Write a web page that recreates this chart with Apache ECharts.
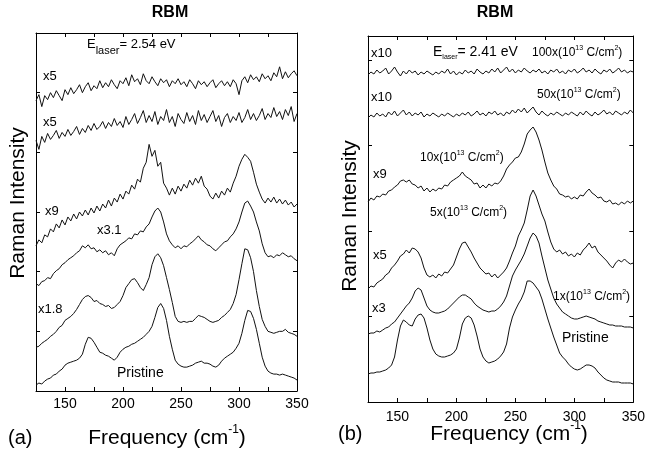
<!DOCTYPE html>
<html>
<head>
<meta charset="utf-8">
<script src="https://cdn.jsdelivr.net/npm/echarts@6/dist/echarts.min.js"></script>
<style>
  html, body { margin: 0; padding: 0; background: #fff; }
  #chart { width: 648px; height: 455px; }
</style>
</head>
<body>
<div id="chart"></div>
<script>
  // frequency grid, cm-1
  var freq = [
    125, 127.5, 130, 132.5, 135, 137.5, 140, 142.5, 145, 147.5,
    150, 152.5, 155, 157.5, 160, 162.5, 165, 167.5, 170, 172.5,
    175, 177.5, 180, 182.5, 185, 187.5, 190, 192.5, 195, 197.5,
    200, 202.5, 205, 207.5, 210, 212.5, 215, 217.5, 220, 222.5,
    225, 227.5, 230, 232.5, 235, 237.5, 240, 242.5, 245, 247.5,
    250, 252.5, 255, 257.5, 260, 262.5, 265, 267.5, 270, 272.5,
    275, 277.5, 280, 282.5, 285, 287.5, 290, 292.5, 295, 297.5,
    300, 302.5, 305, 307.5, 310, 312.5, 315, 317.5, 320, 322.5,
    325, 327.5, 330, 332.5, 335, 337.5, 340, 342.5, 345, 347.5,
    350
  ];

  // panel (a), E = 2.54 eV (offset intensities, arb. units)
  var aPristine = [
    6, 8, 7, 10, 12, 13, 16, 17, 20, 22,
    26, 28, 29, 30, 31, 33, 37, 47, 54, 53,
    49, 44, 39, 38, 36, 35, 33, 31, 34, 39,
    42, 44, 45, 47, 48, 50, 52, 54, 57, 60,
    65, 74, 84, 88, 83, 71, 55, 42, 31, 27,
    25, 24, 24, 25, 26, 28, 29, 30, 28, 28,
    27, 25, 24, 26, 30, 33, 35, 37, 39, 43,
    48, 58, 71, 81, 80, 73, 62, 48, 34, 25,
    20, 18, 17, 17, 16, 17, 16, 15, 14, 13,
    11
  ];
  var aX18 = [
    44, 45, 48, 50, 52, 55, 57, 60, 64, 66,
    71, 73, 75, 78, 82, 87, 92, 95, 96, 94,
    90, 91, 88, 87, 85, 86, 83, 84, 87, 90,
    96, 104, 108, 112, 113, 109, 104, 101, 107, 114,
    127, 135, 138, 134, 126, 114, 102, 89, 75, 70,
    69, 70, 69, 70, 70, 73, 76, 75, 74, 72,
    70, 69, 70, 71, 74, 76, 79, 82, 88, 97,
    112, 128, 143, 142, 134, 120, 101, 85, 72, 65,
    60, 59, 58, 59, 60, 60, 62, 59, 58, 57,
    55
  ];
  var aX31 = [
    108, 106, 110, 111, 114, 113, 118, 121, 123, 127,
    129, 132, 134, 136, 139, 141, 146, 144, 147, 143,
    144, 140, 142, 139, 141, 137, 139, 136, 143, 147,
    149, 151, 154, 153, 158, 157, 161, 160, 165, 168,
    175, 181, 184, 180, 170, 158, 151, 147, 144, 146,
    143, 146, 145, 148, 150, 153, 156, 152, 150, 147,
    146, 143, 141, 144, 147, 150, 151, 155, 158, 163,
    170, 180, 189, 191, 186, 180, 170, 161, 148, 139,
    135, 136, 134, 137, 136, 139, 137, 135, 136, 133,
    131
  ];
  var aX9 = [
    146, 152, 149, 157, 155, 163, 160, 168, 164, 172,
    167, 175, 171, 178, 173, 180, 176, 182, 177, 184,
    179, 186, 181, 188, 184, 192, 186, 194, 190, 198,
    193, 201, 198, 207, 203, 213, 210, 224, 230, 248,
    236, 242, 226, 230, 209, 204, 197, 204, 198, 206,
    201, 208, 204, 212, 207, 214, 209, 216, 206, 203,
    196, 193, 199, 194, 201, 197, 204, 200, 209, 216,
    226, 233, 238, 235, 231, 220, 208, 200, 193, 189,
    194, 190, 195, 189, 193, 188, 192, 187, 190, 185,
    188
  ];
  var aX5b = [
    252, 243, 256, 250, 259, 253, 257, 262, 254, 260,
    256, 263, 257, 261, 266, 258, 264, 260, 267, 262,
    269, 263, 266, 271, 264, 270, 266, 274, 267, 271,
    265, 276, 268, 273, 279, 269, 275, 282, 270, 277,
    271, 281, 268, 276, 272, 283, 270, 276, 266, 279,
    273, 269, 280, 271, 277, 268, 282, 272, 278, 270,
    276, 282, 271, 277, 266, 275, 279, 270, 276, 272,
    280, 270, 275, 283, 273, 279, 272, 277, 284, 273,
    279, 275, 285, 276, 281, 273, 283, 277, 286, 271,
    279
  ];
  var aX5a = [
    292, 298, 286, 297, 293, 300, 295, 302, 297, 292,
    303, 298, 305, 299, 303, 308, 300, 306, 310, 302,
    307, 304, 312, 305, 310, 306, 313, 308, 304, 312,
    309, 315, 307, 318, 311, 314, 308, 319, 312, 309,
    316, 311, 307, 314, 310, 313, 306, 312, 309, 314,
    308, 311, 306, 313, 309, 304, 312, 308, 311, 306,
    310, 313, 305, 309, 312, 307, 311, 306, 313, 309,
    298, 312, 316, 310, 318, 313, 316, 311, 319, 314,
    317, 312, 320, 316, 326, 314, 321, 315, 319, 322,
    317
  ];

  // panel (b), E = 2.41 eV
  var bPristine = [
    28, 29, 29, 30, 30, 31, 32, 34, 37, 45,
    62, 76, 82, 80, 77, 76, 83, 87, 88, 84,
    74, 62, 53, 48, 46, 45, 45, 46, 47, 49,
    53, 64, 78, 84, 86, 84, 77, 66, 53, 45,
    41, 39, 40, 41, 43, 46, 50, 58, 74, 85,
    92, 98, 103, 110, 121, 121, 119, 115, 111, 103,
    93, 83, 74, 65, 57, 49, 45, 42, 38, 35,
    33, 32, 33, 35, 37, 37, 36, 34, 30, 27,
    24, 22, 21, 20, 20, 20, 19, 19, 19, 19,
    18
  ];
  var b1x = [
    68, 69, 69, 71, 70, 72, 74, 75, 78, 80,
    84, 88, 92, 96, 99, 104, 111, 114, 112, 104,
    96, 92, 90, 89, 89, 90, 91, 93, 96, 99,
    102, 105, 107, 107, 105, 103, 99, 96, 94, 92,
    91, 90, 91, 91, 93, 96, 100, 106, 116, 126,
    132, 137, 142, 148, 156, 164, 169, 166, 159, 146,
    134, 122, 113, 104, 98, 94, 90, 88, 86, 84,
    83, 83, 84, 85, 86, 85, 84, 83, 81, 80,
    79, 78, 77, 77, 76, 76, 76, 75, 75, 75,
    74
  ];
  var b5x = [
    113, 116, 115, 119, 121, 123, 127, 129, 134, 137,
    141, 146, 148, 152, 149, 154, 153, 150, 144, 134,
    127, 125, 127, 124, 128, 126, 130, 129, 133, 137,
    145, 153, 159, 160, 155, 150, 144, 139, 134, 131,
    128, 129, 125, 128, 124, 127, 130, 134, 141, 149,
    156, 166, 172, 179, 192, 206, 212, 206, 197, 188,
    181, 170, 160, 153, 150, 152, 148, 150, 146, 148,
    145, 149, 147, 152, 155, 159, 154, 156, 150, 147,
    144, 141, 137, 134, 139, 142, 140, 143, 140, 138,
    139
  ];
  var b10x = [
    200, 204, 202, 206, 205, 208, 207, 211, 212, 215,
    217, 221, 222, 220, 222, 218, 217, 214, 216, 211,
    214, 210, 213, 211, 214, 213, 217, 216, 220, 222,
    224, 226, 230, 226, 224, 222, 218, 219, 214, 217,
    214, 218, 216, 219, 218, 221, 226, 233, 237, 240,
    244, 245, 250, 258, 268, 272, 275, 270, 262, 252,
    240, 229, 222, 216, 213, 208, 207, 205, 206, 203,
    205, 203, 207, 206, 210, 213, 209, 207, 204, 205,
    201, 200, 202, 198, 199, 197, 200, 198, 201, 199,
    201
  ];
  var b50x = [
    284, 287, 285, 289, 286, 288, 285, 290, 287, 291,
    286, 289, 292, 287, 290, 286, 289, 287, 290, 285,
    288, 286, 289, 287, 285, 288, 286, 289, 287, 285,
    288, 286, 289, 287, 290, 286, 288, 291, 287, 289,
    286, 290, 288, 291, 287, 289, 286, 290, 288, 292,
    289, 293, 290, 294, 289, 292, 295, 290, 287, 291,
    288, 286, 289, 287, 290, 288, 286, 289, 287, 290,
    288, 286, 290, 287, 291, 288, 286, 290, 287, 289,
    292, 288, 290, 287, 291, 289, 287, 290, 288, 292,
    289
  ];
  var b100x = [
    327, 330, 328, 332, 329, 331, 334, 328, 331, 335,
    330, 326, 331, 328, 332, 329, 331, 327, 330, 328,
    331, 329, 327, 330, 328, 331, 329, 333, 328, 331,
    327, 330, 328, 332, 329, 331, 328, 333, 330, 328,
    331, 329, 333, 330, 334, 329, 332, 335, 330, 333,
    329, 332, 330, 334, 331, 329, 332, 330, 333, 329,
    331, 328, 332, 330, 333, 329, 331, 328, 332, 330,
    333, 329, 331, 334, 330, 332, 329, 333, 330, 328,
    332, 330, 333, 329, 331, 334, 330, 332, 329, 331,
    330
  ];

  var FONT = '"Liberation Sans", Arial, Helvetica, sans-serif';
  var INK = '#111';

  function pairs(vals) {
    return freq.map(function (f, i) { return [f, vals[i]]; });
  }

  function spectrum(vals, xi, yi) {
    return {
      type: 'line',
      xAxisIndex: xi,
      yAxisIndex: yi,
      data: pairs(vals),
      symbol: 'none',
      silent: true,
      lineStyle: { color: INK, width: 1 },
      z: 3
    };
  }

  function xAx(grid, pos, margin) {
    return {
      gridIndex: grid,
      type: 'value',
      position: pos,
      min: 125, max: 350, interval: 25,
      axisLine: { show: true, onZero: false, lineStyle: { color: '#000', width: 1 } },
      axisTick: { show: true, inside: true, length: 4, lineStyle: { color: '#000' } },
      axisLabel: {
        show: pos === 'bottom',
        margin: margin,
        fontSize: 14,
        fontFamily: FONT,
        color: '#000',
        formatter: function (v) { return v % 50 === 0 ? String(v) : ''; }
      },
      splitLine: { show: false }
    };
  }

  function yAx(grid, pos, max, step) {
    return {
      gridIndex: grid,
      type: 'value',
      position: pos,
      min: 0, max: max, interval: step,
      axisLine: { show: true, onZero: false, lineStyle: { color: '#000', width: 1 } },
      axisTick: { show: true, inside: true, length: 4, lineStyle: { color: '#000' } },
      axisLabel: { show: false },
      splitLine: { show: false }
    };
  }

  function txt(x, y, s, size, extra) {
    var st = { text: s, fontSize: size, fontFamily: FONT, fill: '#000', align: 'left', verticalAlign: 'middle' };
    for (var k in extra) st[k] = extra[k];
    return { type: 'text', x: x, y: y, silent: true, style: st };
  }

  // sub/superscripts: the small token gets a taller lineHeight and is pushed to one edge of the line
  function supRich(big, small, h) {
    return {
      b: { fontSize: big, lineHeight: big, verticalAlign: 'bottom', fontFamily: FONT, fill: '#000' },
      u: { fontSize: small, lineHeight: h, verticalAlign: 'top', fontFamily: FONT, fill: '#000' }
    };
  }

  function dose(x, y, pre) {
    return txt(x, y, '{b|' + pre + '(10}{u|13}{b| C/cm}{u|2}{b|)}', 12, { rich: supRich(12, 7, 14) });
  }

  function elaser(x, y, val, big, small, h) {
    return txt(x, y, '{b|E}{s|laser}{b|= ' + val + ' eV}', big, {
      rich: {
        b: { fontSize: big, lineHeight: big, verticalAlign: 'top', fontFamily: FONT, fill: '#000' },
        s: { fontSize: small, lineHeight: h, verticalAlign: 'bottom', fontFamily: FONT, fill: '#000' }
      }
    });
  }

  function freqName(cx, y) {
    return txt(cx, y, '{b|Frequency (cm}{u|-1}{b|)}', 21, { align: 'center', rich: supRich(21, 12, 25) });
  }

  function ramanName(x, y) {
    var t = txt(x, y, 'Raman Intensity', 21, { align: 'center' });
    t.rotation = Math.PI / 2;
    return t;
  }

  var chart = echarts.init(document.getElementById('chart'), null, { renderer: 'canvas' });

  var option = {
    animation: false,
    backgroundColor: '#fff',
    grid: [
      { left: 36, top: 33, width: 261, height: 358 },
      { left: 368, top: 36, width: 266, height: 366 }
    ],
    xAxis: [xAx(0, 'bottom', 6), xAx(0, 'top', 6), xAx(1, 'bottom', 8), xAx(1, 'top', 8)],
    yAxis: [yAx(0, 'left', 360, 60), yAx(0, 'right', 360, 60), yAx(1, 'left', 366, 85.5), yAx(1, 'right', 366, 85.5)],
    series: [
      spectrum(aPristine, 0, 0),
      spectrum(aX18, 0, 0),
      spectrum(aX31, 0, 0),
      spectrum(aX9, 0, 0),
      spectrum(aX5b, 0, 0),
      spectrum(aX5a, 0, 0),
      spectrum(bPristine, 2, 2),
      spectrum(b1x, 2, 2),
      spectrum(b5x, 2, 2),
      spectrum(b10x, 2, 2),
      spectrum(b50x, 2, 2),
      spectrum(b100x, 2, 2)
    ],
    graphic: [
      // panel (a)
      txt(170, 13, 'RBM', 16, { align: 'center', fontWeight: 'bold' }),
      elaser(87, 47, '2.54', 13, 11, 19),
      txt(43, 76, 'x5', 13),
      txt(43, 122, 'x5', 13),
      txt(45, 211, 'x9', 13),
      txt(97, 230, 'x3.1', 13),
      txt(38, 309, 'x1.8', 13),
      txt(117, 373, 'Pristine', 14),
      txt(8, 438, '(a)', 20),
      freqName(167, 436),
      ramanName(18, 203),
      // panel (b)
      txt(495, 13, 'RBM', 16, { align: 'center', fontWeight: 'bold' }),
      elaser(433, 53, '2.41', 14, 7, 15.5),
      txt(371, 53, 'x10', 13),
      dose(532, 52, '100x'),
      txt(371, 97, 'x10', 13),
      dose(537, 94, '50x'),
      dose(420, 157, '10x'),
      txt(373, 174, 'x9', 13),
      dose(430, 212, '5x'),
      txt(373, 255, 'x5', 13),
      dose(553, 296, '1x'),
      txt(372, 308, 'x3', 13),
      txt(562, 338, 'Pristine', 14),
      txt(338, 434, '(b)', 20),
      freqName(509, 432),
      ramanName(350, 216)
    ]
  };

  option && chart.setOption(option);
</script>
</body>
</html>
